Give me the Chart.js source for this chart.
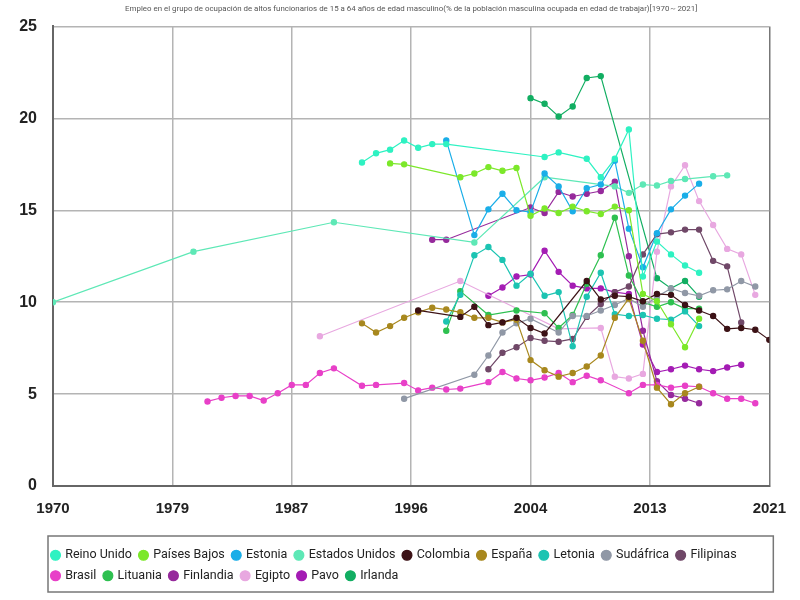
<!DOCTYPE html>
<html>
<head>
<meta charset="utf-8">
<script src="https://cdn.jsdelivr.net/npm/chart.js@4.4.1/dist/chart.umd.min.js"></script>
<style>
  body { margin: 0; background: #fff; }
</style>
</head>
<body>
<canvas id="myChart" width="800" height="600"></canvas>
<script>
const chartTitle = "Empleo en el grupo de ocupación de altos funcionarios de 15 a 64 años de edad masculino(% de la población masculina ocupada en edad de trabajar)[1970～2021]";

const xTicks = [1970, 1978.5, 1987, 1995.5, 2004, 2012.5, 2021];
const yTicks = [0, 5, 10, 15, 20, 25];

const reinoUnidoYears = [1992, 1993, 1994, 1995, 1996, 1997, 1998, 2005, 2006, 2008, 2009, 2010, 2011, 2012, 2013, 2014, 2015, 2016];
const reinoUnidoValues = [17.6, 18.1, 18.3, 18.8, 18.4, 18.6, 18.6, 17.9, 18.15, 17.8, 16.8, 17.8, 19.4, 11.4, 13.3, 12.6, 12.0, 11.6];

const paisesBajosYears = [1994, 1995, 1999, 2000, 2001, 2002, 2003, 2004, 2005, 2006, 2007, 2008, 2009, 2010, 2011, 2012, 2013, 2014, 2015, 2016];
const paisesBajosValues = [17.55, 17.5, 16.8, 17.0, 17.35, 17.15, 17.3, 14.7, 15.1, 14.85, 15.2, 14.95, 14.8, 15.2, 15.0, 10.45, 10.05, 8.8, 7.55, 9.1];

const estoniaYears = [1998, 2000, 2001, 2002, 2003, 2004, 2005, 2006, 2007, 2008, 2009, 2010, 2011, 2012, 2013, 2014, 2015, 2016];
const estoniaValues = [18.8, 13.65, 15.05, 15.9, 15.0, 14.9, 17.0, 16.3, 14.95, 16.2, 16.4, 17.7, 14.0, 11.9, 13.75, 15.05, 15.8, 16.45];

const estadosUnidosYears = [1970, 1980, 1990, 2000, 2005, 2010, 2011, 2012, 2013, 2014, 2015, 2017, 2018];
const estadosUnidosValues = [10.0, 12.75, 14.35, 13.25, 16.8, 16.3, 15.95, 16.4, 16.35, 16.6, 16.7, 16.85, 16.9];

const colombiaYears = [1996, 1999, 2000, 2001, 2002, 2003, 2004, 2005, 2008, 2009, 2010, 2011, 2012, 2013, 2014, 2015, 2016, 2017, 2018, 2019, 2020, 2021];
const colombiaValues = [9.55, 9.2, 9.75, 8.75, 8.9, 9.15, 8.6, 8.3, 11.15, 10.15, 10.35, 10.3, 10.05, 10.45, 10.4, 9.85, 9.55, 9.25, 8.55, 8.6, 8.5, 7.95];

const espanaYears = [1992, 1993, 1994, 1995, 1996, 1997, 1998, 1999, 2000, 2001, 2002, 2003, 2004, 2005, 2006, 2007, 2008, 2009, 2010, 2011, 2012, 2013, 2014, 2015, 2016];
const espanaValues = [8.85, 8.35, 8.7, 9.15, 9.45, 9.7, 9.6, 9.45, 9.15, 9.15, 8.9, 9.05, 6.85, 6.3, 5.95, 6.15, 6.5, 7.1, 9.15, 10.2, 7.9, 5.35, 4.45, 5.05, 5.4];

const letoniaYears = [1998, 1999, 2000, 2001, 2002, 2003, 2004, 2005, 2006, 2007, 2008, 2009, 2010, 2011, 2012, 2013, 2014, 2015, 2016];
const letoniaValues = [8.95, 10.4, 12.55, 13.0, 12.3, 10.9, 11.55, 10.35, 10.55, 7.6, 10.3, 11.6, 9.35, 9.25, 9.3, 9.1, 9.05, 9.5, 8.7];

const sudafricaYears = [1995, 2000, 2001, 2002, 2003, 2004, 2006, 2007, 2008, 2009, 2010, 2011, 2012, 2013, 2014, 2015, 2016, 2017, 2018, 2019, 2020];
const sudafricaValues = [4.75, 6.05, 7.1, 8.35, 8.85, 9.1, 8.35, 9.25, 9.25, 9.55, 9.85, 10.2, 9.75, 10.3, 10.75, 10.5, 10.35, 10.65, 10.7, 11.15, 10.85];

const filipinasYears = [2001, 2002, 2003, 2004, 2005, 2006, 2007, 2008, 2009, 2010, 2011, 2012, 2013, 2014, 2015, 2016, 2017, 2018, 2019];
const filipinasValues = [6.35, 7.25, 7.55, 8.05, 7.9, 7.85, 8.0, 9.2, 9.9, 10.55, 10.85, 12.6, 13.7, 13.8, 13.95, 13.95, 12.25, 11.95, 8.9];

const brasilYears = [1981, 1982, 1983, 1984, 1985, 1986, 1987, 1988, 1989, 1990, 1992, 1993, 1995, 1996, 1997, 1998, 1999, 2001, 2002, 2003, 2004, 2005, 2006, 2007, 2008, 2009, 2011, 2012, 2013, 2014, 2015, 2016, 2017, 2018, 2019, 2020];
const brasilValues = [4.6, 4.8, 4.9, 4.9, 4.65, 5.05, 5.5, 5.5, 6.15, 6.4, 5.45, 5.5, 5.6, 5.2, 5.35, 5.25, 5.3, 5.65, 6.2, 5.85, 5.75, 5.9, 6.15, 5.65, 6.0, 5.75, 5.05, 5.5, 5.5, 5.35, 5.45, 5.4, 5.05, 4.75, 4.75, 4.5];

const lituaniaYears = [1998, 1999, 2001, 2003, 2005, 2006, 2007, 2008, 2009, 2010, 2011, 2012, 2013, 2014, 2015, 2016];
const lituaniaValues = [8.45, 10.6, 9.3, 9.55, 9.4, 8.6, 9.3, 11.0, 12.55, 14.6, 11.45, 10.0, 9.75, 10.0, 9.65, 9.65];

const finlandiaYears = [1997, 1998, 2004, 2005, 2006, 2007, 2008, 2009, 2010, 2011, 2012, 2013, 2014, 2015, 2016];
const finlandiaValues = [13.4, 13.4, 15.15, 14.85, 16.0, 15.75, 15.9, 16.05, 16.55, 12.5, 8.45, 5.7, 4.95, 4.75, 4.5];

const egiptoYears = [1989, 1999, 2006, 2009, 2010, 2011, 2012, 2013, 2014, 2015, 2016, 2017, 2018, 2019, 2020];
const egiptoValues = [8.15, 11.15, 8.55, 8.6, 5.95, 5.85, 6.1, 12.75, 16.3, 17.45, 15.5, 14.2, 12.9, 12.6, 10.4];

const pavoYears = [2001, 2002, 2003, 2004, 2005, 2006, 2007, 2008, 2009, 2010, 2011, 2012, 2013, 2014, 2015, 2016, 2017, 2018, 2019];
const pavoValues = [10.35, 10.8, 11.4, 11.5, 12.8, 11.65, 10.9, 10.75, 10.75, 10.55, 10.45, 7.7, 6.2, 6.35, 6.55, 6.35, 6.25, 6.45, 6.6];

const irlandaYears = [2004, 2005, 2006, 2007, 2008, 2009, 2013, 2014, 2015, 2016];
const irlandaValues = [21.1, 20.8, 20.1, 20.65, 22.2, 22.3, 11.3, 10.75, 11.15, 10.3];

const series = [
  { label: "Reino Unido", years: reinoUnidoYears, values: reinoUnidoValues, color: "#2ef2c2" },
  { label: "Países Bajos", years: paisesBajosYears, values: paisesBajosValues, color: "#7ce82a" },
  { label: "Estonia", years: estoniaYears, values: estoniaValues, color: "#1aaee8" },
  { label: "Estados Unidos", years: estadosUnidosYears, values: estadosUnidosValues, color: "#5ee8b6" },
  { label: "Colombia", years: colombiaYears, values: colombiaValues, color: "#3c1216" },
  { label: "España", years: espanaYears, values: espanaValues, color: "#a8881e" },
  { label: "Letonia", years: letoniaYears, values: letoniaValues, color: "#1cc4b2" },
  { label: "Sudáfrica", years: sudafricaYears, values: sudafricaValues, color: "#9098a6" },
  { label: "Filipinas", years: filipinasYears, values: filipinasValues, color: "#704868" },
  { label: "Brasil", years: brasilYears, values: brasilValues, color: "#e840c8" },
  { label: "Lituania", years: lituaniaYears, values: lituaniaValues, color: "#2ec050" },
  { label: "Finlandia", years: finlandiaYears, values: finlandiaValues, color: "#962a9c" },
  { label: "Egipto", years: egiptoYears, values: egiptoValues, color: "#e8a8e0" },
  { label: "Pavo", years: pavoYears, values: pavoValues, color: "#a41cb4" },
  { label: "Irlanda", years: irlandaYears, values: irlandaValues, color: "#12ae62" },
];

const textFont = "Roboto, 'Noto Sans', sans-serif";

// pull the legend a little left of the plot, as in the original
const legendShift = {
  id: "legendShift",
  afterLayout(chart) {
    chart.legend.left = chart.chartArea.left - 9;
  },
};

// box round the legend, like the original
const legendBorder = {
  id: "legendBorder",
  afterDraw(chart) {
    const legend = chart.legend;
    const area = chart.chartArea;
    const ctx = chart.ctx;
    ctx.save();
    ctx.strokeStyle = "#777";
    ctx.lineWidth = 1.5;
    ctx.strokeRect(area.left - 5, legend.top - 5, area.right - area.left + 9, legend.height + 5);
    ctx.restore();
  },
};

const ctx = document.getElementById("myChart");

new Chart(ctx, {
  type: "line",
  data: {
    datasets: series.map((s) => ({
      label: s.label,
      data: s.years.map((year, i) => ({ x: year, y: s.values[i] })),
      borderColor: s.color,
      backgroundColor: s.color,
      borderWidth: 1.2,
      pointRadius: 2.6,
      pointHoverRadius: 3,
      fill: false,
      tension: 0,
    })),
  },
  options: {
    responsive: false,
    animation: false,
    layout: { padding: { top: 0, left: 0, right: 27, bottom: 8 } },
    scales: {
      x: {
        type: "linear",
        min: 1970,
        max: 2021,
        afterBuildTicks: (scale) => {
          scale.ticks = xTicks.map((v) => ({ value: v }));
        },
        afterFit: (scale) => {
          scale.height = 55;
        },
        ticks: {
          callback: (v) => Math.round(v),
          padding: 14,
          color: "#222",
          font: { size: 15, weight: "bold", family: "'Liberation Sans', sans-serif" },
          maxRotation: 0,
        },
        grid: {
          color: (c) => (c.index === xTicks.length - 1 ? "#777" : "#b4b4b4"),
          lineWidth: 1.5,
          drawTicks: false,
        },
        border: { color: "#666", width: 2 },
      },
      y: {
        min: 0,
        max: 25,
        afterBuildTicks: (scale) => {
          scale.ticks = yTicks.map((v) => ({ value: v }));
        },
        afterFit: (scale) => {
          scale.width = 53;
        },
        ticks: {
          padding: 16,
          color: "#222",
          font: { size: 16, weight: "bold", family: "'Liberation Sans', sans-serif" },
        },
        grid: { color: "#b4b4b4", lineWidth: 1.5, drawTicks: false },
        border: { color: "#666", width: 2 },
      },
    },
    plugins: {
      title: {
        display: true,
        fullSize: false,
        text: chartTitle,
        color: "#555",
        font: { size: 7.9, weight: "normal", family: textFont },
        padding: { top: 4, bottom: 13 },
      },
      legend: {
        position: "bottom",
        align: "start",
        fullSize: false,
        labels: {
          usePointStyle: true,
          pointStyle: "circle",
          boxWidth: 7,
          boxHeight: 7,
          padding: 8,
          color: "#222",
          font: { size: 12.5, family: textFont },
        },
      },
      tooltip: { enabled: false },
    },
  },
  plugins: [legendShift, legendBorder],
});
</script>
</body>
</html>
